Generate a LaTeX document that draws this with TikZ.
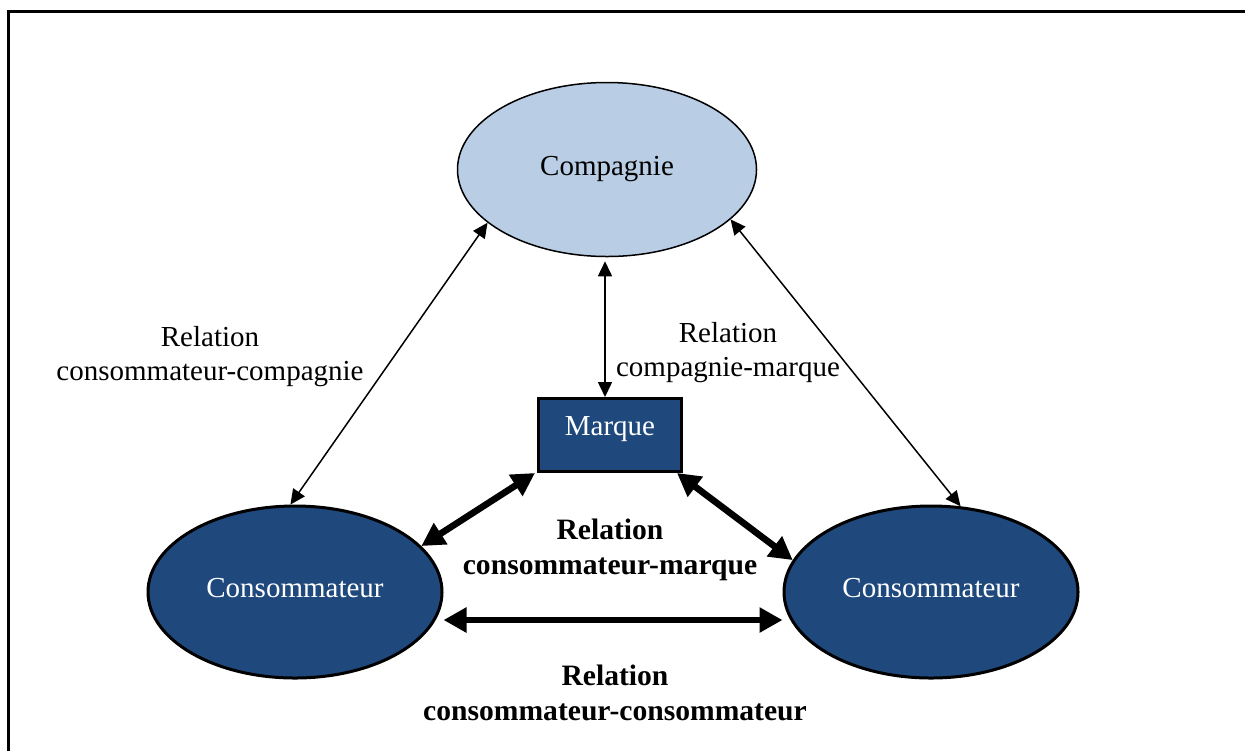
\documentclass[tikz,border=0pt]{standalone}
\usepackage{fontspec}
\setmainfont{Liberation Serif}
\usetikzlibrary{positioning,shapes.geometric,arrows.meta}
\definecolor{navy}{HTML}{1F497D}
\definecolor{sky} {HTML}{B9CDE5}
\tikzset{
  every node/.style={font=\fontsize{14.5}{17}\selectfont},
  % --- nodes
  firm/.style  = {ellipse, draw=black, line width=0.75pt, fill=sky,
                  minimum width=149.5pt, minimum height=87pt},
  cons/.style  = {ellipse, draw=black, line width=1.5pt, fill=navy, text=white,
                  minimum width=147pt, minimum height=86pt, text depth=4pt},
  brand/.style = {rectangle, draw=black, line width=1.5pt, fill=navy, text=white,
                  minimum width=71.5pt, minimum height=36.5pt,
                  text height=9.5pt, text depth=9pt},
  rel/.style   = {align=center, inner sep=0pt},
  relb/.style  = {rel, font=\fontsize{14.8}{17.5}\selectfont\bfseries},
  % --- edges
  ethin/.style = {{Triangle[length=7.5pt,width=7pt]}-{Triangle[length=7.5pt,width=7pt]},
                  line width=0.75pt},
  ethick/.style= {{Triangle[length=11.5pt,width=12pt]}-{Triangle[length=11.5pt,width=12pt]},
                  line width=3.3pt},
}

\begin{document}
\begin{tikzpicture}[x=0.5pt,y=-0.5pt]
  \useasboundingbox (0,0) rectangle (1245,751);
  \draw[line width=1.5pt] (8,751) -- (8,11) -- (1245,11);

  \node[firm]  (comp) at (607,169.5) {Compagnie};
  \node[brand] (mq)   at (610,435)   {Marque};
  \node[cons]  (cl)   at (295,592)   {Consommateur};
  \node[cons]  (cr)   at (931,592)   {Consommateur};

  \node[rel]  (rcc) at (210,357) {Relation\\consommateur-compagnie};
  \node[rel]  (rcm) at (728,353) {Relation\\compagnie-marque};
  \node[relb] (rmq) at (610,550) {Relation\\consommateur-marque};
  \node[relb] (rco) at (615,693) {Relation\\consommateur-consommateur};

  \draw[ethin] (cl.93) -- (comp.204);
  \draw[ethin] (comp.338) -- (cr.71);
  \draw[ethin, shorten <=2pt] ([xshift=-1pt]comp.south) -- ([xshift=-1pt]comp.south |- mq.north);
  \draw[ethick] (cl.20) -- ([xshift=-1pt]mq.south west);
  \draw[ethick] ([xshift=-3pt]mq.south east) -- (cr.167);
  \draw[ethick] ([yshift=-14pt]cl.east) -- ([yshift=-14pt]cr.west);
\end{tikzpicture}
\end{document}
